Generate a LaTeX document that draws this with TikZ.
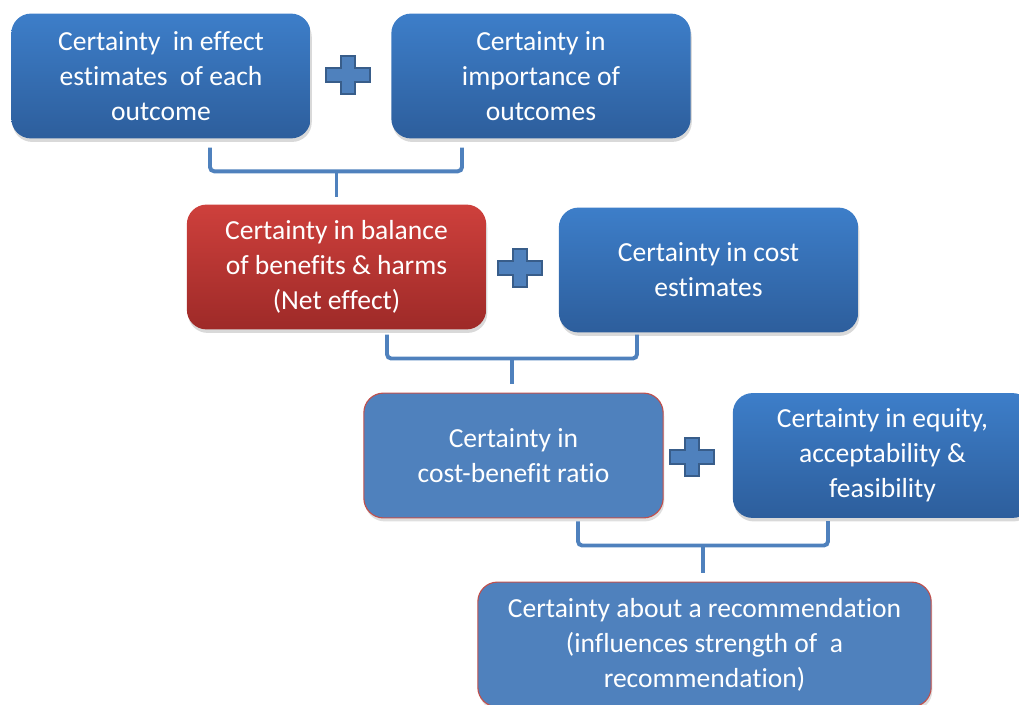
\documentclass[tikz,border=0pt]{standalone}
\usepackage{fontspec}
\setmainfont{Carlito}[Ligatures=NoCommon]
\usepackage{tikz}
\usetikzlibrary{positioning}
\usetikzlibrary{calc}
\usetikzlibrary{shadows}

\definecolor{boxtop}{RGB}{61,126,201}
\definecolor{boxbot}{RGB}{45,94,156}
\definecolor{redtop}{RGB}{206,64,60}
\definecolor{redbot}{RGB}{158,42,40}
\definecolor{flatblue}{RGB}{79,129,189}
\definecolor{flatred}{RGB}{192,80,77}
\definecolor{plusedge}{RGB}{56,93,138}

\tikzset{
  box/.style={rectangle,rounded corners=14pt,minimum width=7.48cm,minimum height=3.12cm,
    align=center,text=white,font=\fontsize{19.6}{24.9}\selectfont,inner sep=0pt},
  bluebox/.style={box,top color=boxtop,bottom color=boxbot,draw=none,
    drop shadow={opacity=0.3,shadow xshift=0.8pt,shadow yshift=-2.5pt}},
  redbox/.style={box,top color=redtop,bottom color=redbot,draw=none,
    drop shadow={opacity=0.3,shadow xshift=0.8pt,shadow yshift=-2.5pt}},
  flatbox/.style={box,fill=flatblue,draw=flatred,line width=0.8pt,
    drop shadow={opacity=0.25,shadow xshift=0.8pt,shadow yshift=-2.5pt}},
  brace/.style={draw=flatblue,line width=2.8pt,rounded corners=3pt},
  plussign/.pic={\draw[fill=flatblue,draw=plusedge,line width=1.4pt]
    (-7,-19) -- (7,-19) -- (7,-7) -- (22,-7) -- (22,7) -- (7,7) -- (7,19)
    -- (-7,19) -- (-7,7) -- (-22,7) -- (-22,-7) -- (-7,-7) -- cycle;}
}

\begin{document}
\begin{tikzpicture}[x=0.025cm,y=-0.025cm]
\useasboundingbox (0,0) rectangle (1019,704);
\node[bluebox] (A) at (161,76)    {Certainty~ in effect\\estimates~ of each\\outcome};
\node[bluebox] (B) at (541,76)    {Certainty in\\importance of\\outcomes};
\node[redbox]  (C) at (336.5,267) {Certainty in balance\\of benefits \& harms\\(Net effect)};
\node[bluebox] (D) at (708.5,270) {Certainty in cost\\estimates};
\node[flatbox] (E) at (513.5,455.5) {Certainty in\\cost-benefit ratio};
\node[bluebox] (F) at (882.5,455.5) {Certainty in equity,\\acceptability \&\\feasibility};
\node[flatbox,minimum width=11.33cm] (G) at (704.5,644.5)
  {Certainty about a recommendation\\(influences strength of~ a\\recommendation)};

\pic (P1) at (348,75) {plussign};
\pic (P2) at (520,268) {plussign};
\pic (P3) at (692,457) {plussign};

\coordinate (J1) at ($(C.north)+(0,-33)$);
\coordinate (J2) at ($(E.north)+(-1.5,-34)$);
\coordinate (J3) at ($(G.north)+(-1.5,-36)$);

\draw[brace] ($(A.south)+(49,9)$) |- (J1) -| ($(B.south)+(-79,9)$);
\draw[brace] (J1) -- ($(C.north)+(0,-7)$);
\draw[brace] ($(C.south)+(50.5,5)$) |- (J2) -| ($(D.south)+(-71.5,2)$);
\draw[brace] (J2) -- ($(E.north)+(-1.5,-9)$);
\draw[brace] ($(E.south)+(64.5,3)$) |- (J3) -| ($(F.south)+(-54.5,3)$);
\draw[brace] (J3) -- ($(G.north)+(-1.5,-9)$);
\end{tikzpicture}
\end{document}
